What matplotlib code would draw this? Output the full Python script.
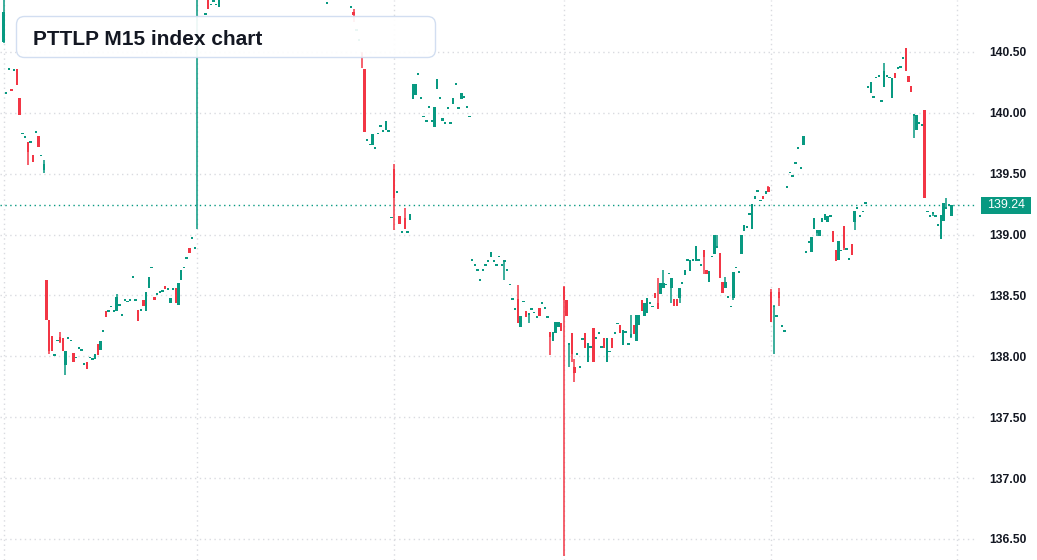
import numpy as np
import matplotlib
matplotlib.use("Agg")
import matplotlib.pyplot as plt
from matplotlib.patches import FancyBboxPatch, Rectangle
from matplotlib.transforms import IdentityTransform, blended_transform_factory

title = "PTTLP M15 index chart"
last_price_label = "139.24"
y_ticks = [136.5, 137.0, 137.5, 138.0, 138.5, 139.0, 139.5, 140.0, 140.5]
session_starts = [0, 72, 145, 208, 285, 354]

open_ = [
 140.58,140.16,140.36,140.20,140.35,140.36,140.12,139.83,139.80,139.76,
 139.76,139.65,139.84,139.81,139.65,139.53,138.63,138.30,138.17,138.01,
 138.13,138.16,138.15,137.93,138.15,138.13,138.03,137.99,138.07,138.05,
 137.94,137.95,137.99,137.98,137.98,138.10,138.05,138.21,138.37,138.37,
 138.41,138.37,138.37,138.42,138.34,138.46,138.45,138.46,138.65,138.46,
 138.38,138.38,138.46,138.37,138.56,138.73,138.49,138.51,138.53,138.54,
 138.58,138.55,138.44,138.55,138.56,138.42,138.63,138.73,138.81,138.89,
 138.97,138.89,141.05,141.10,141.02,140.81,141.00,140.89,140.92,140.89,
 140.87,141.00,141.12,141.18,141.25,141.22,141.30,141.28,141.35,141.32,
 141.40,141.38,141.45,141.42,141.50,141.48,141.44,141.40,141.42,141.36,
 141.30,141.34,141.28,141.22,141.26,141.20,141.24,141.18,141.15,141.20,
 141.16,141.12,141.18,141.14,141.10,141.15,141.12,141.08,141.12,141.06,
 140.90,141.02,141.00,141.05,141.10,141.08,141.12,141.06,141.02,140.87,
 140.83,140.68,140.60,140.49,140.36,139.78,139.74,139.74,139.71,139.83,
 139.89,139.85,139.86,139.85,139.14,139.54,139.35,139.15,139.02,139.14,
 139.02,139.12,140.11,140.15,140.32,140.12,139.97,139.93,140.05,139.93,
 139.88,140.20,140.12,139.93,139.92,140.04,139.92,140.07,140.24,140.04,
 140.11,140.13,140.05,139.97,138.79,138.75,138.71,138.63,138.71,138.75,
 138.78,138.82,138.78,138.75,138.82,138.75,138.78,138.71,138.59,138.47,
 138.39,138.47,138.24,138.45,138.37,138.35,138.39,138.36,138.32,138.40,
 138.44,138.40,138.32,138.20,138.13,138.19,138.24,138.27,138.57,138.46,
 138.10,138.19,137.91,138.02,137.91,138.14,138.19,137.95,138.08,138.23,
 138.15,138.19,138.08,138.15,137.95,138.04,138.15,138.19,138.27,138.26,
 138.09,138.20,138.10,138.16,138.26,138.13,138.26,138.46,138.33,138.36,
 138.44,138.41,138.52,138.44,138.51,138.56,138.59,138.68,138.56,138.47,
 138.47,138.48,138.60,138.67,138.79,138.70,138.79,138.78,138.79,138.75,
 138.87,138.71,138.61,138.82,138.84,138.89,138.85,138.61,138.56,138.49,
 138.41,138.48,138.73,138.69,138.84,139.03,139.06,139.17,139.05,139.29,
 139.36,139.28,139.32,139.33,139.39,138.53,138.41,138.33,138.53,138.25,
 138.21,139.39,139.51,139.48,139.59,139.71,139.55,139.74,138.86,138.94,
 138.86,139.05,139.01,138.99,139.10,139.12,139.10,139.15,139.03,138.87,
 138.79,138.87,139.07,138.88,138.80,138.92,139.10,139.22,139.15,139.19,
 139.26,140.21,140.16,140.13,140.29,140.30,140.10,140.21,140.30,140.29,
 140.12,140.33,140.37,140.38,140.45,140.53,140.30,140.22,139.98,139.86,
 139.92,139.90,140.02,139.19,139.15,139.18,139.15,139.08,138.96,139.11,
 139.22,139.24,139.15]

high = [
 140.95,140.16,140.36,140.20,140.35,140.36,140.12,139.83,139.80,139.76,
 139.76,139.65,139.84,139.81,139.65,139.61,138.63,138.30,138.17,138.01,
 138.13,138.20,138.15,138.04,138.15,138.13,138.03,137.99,138.07,138.05,
 137.94,137.95,137.99,137.98,138.02,138.10,138.13,138.21,138.37,138.37,
 138.41,138.37,138.51,138.42,138.34,138.46,138.45,138.46,138.65,138.46,
 138.38,138.38,138.46,138.53,138.65,138.73,138.49,138.51,138.53,138.54,
 138.58,138.55,138.48,138.55,138.56,138.60,138.71,138.73,138.81,138.89,
 138.97,138.89,141.20,141.15,141.10,140.82,141.05,140.89,140.92,140.89,
 141.00,141.15,141.21,141.28,141.28,141.33,141.33,141.38,141.38,141.43,
 141.43,141.48,141.48,141.53,141.53,141.51,141.47,141.45,141.45,141.39,
 141.37,141.37,141.31,141.29,141.29,141.27,141.27,141.21,141.23,141.23,
 141.19,141.21,141.21,141.17,141.18,141.18,141.15,141.15,141.15,141.09,
 140.90,141.05,141.08,141.13,141.13,141.15,141.15,141.09,141.05,140.87,
 140.85,140.68,140.60,140.50,140.36,139.78,139.74,139.83,139.71,139.83,
 139.89,139.85,139.93,139.85,139.14,139.58,139.35,139.15,139.02,139.22,
 139.02,139.17,140.24,140.24,140.32,140.12,139.97,139.93,140.05,139.93,
 140.05,140.28,140.12,139.96,139.92,140.04,139.92,140.12,140.24,140.04,
 140.16,140.13,140.05,139.97,138.79,138.75,138.71,138.63,138.71,138.75,
 138.78,138.86,138.78,138.75,138.82,138.75,138.78,138.71,138.59,138.47,
 138.39,138.59,138.33,138.45,138.37,138.35,138.39,138.36,138.32,138.40,
 138.44,138.40,138.32,138.20,138.20,138.28,138.28,138.27,138.58,138.46,
 138.11,138.19,137.98,138.02,137.91,138.14,138.19,138.11,138.08,138.23,
 138.15,138.19,138.08,138.15,138.15,138.04,138.15,138.19,138.27,138.26,
 138.22,138.20,138.10,138.34,138.26,138.34,138.34,138.46,138.44,138.48,
 138.44,138.41,138.52,138.64,138.60,138.71,138.59,138.68,138.64,138.47,
 138.47,138.56,138.60,138.71,138.79,138.79,138.79,138.91,138.79,138.75,
 138.87,138.71,138.70,138.82,139.00,139.00,138.85,138.61,138.65,138.49,
 138.41,138.69,138.73,138.69,139.00,139.08,139.06,139.17,139.25,139.32,
 139.36,139.28,139.32,139.36,139.40,138.55,138.42,138.33,138.56,138.25,
 138.21,139.39,139.51,139.48,139.59,139.71,139.55,139.81,138.86,138.94,
 138.98,139.14,139.04,139.04,139.14,139.17,139.15,139.15,139.03,138.87,
 138.95,138.87,139.07,138.88,138.80,138.92,139.19,139.22,139.15,139.19,
 139.26,140.21,140.25,140.13,140.29,140.30,140.10,140.41,140.30,140.29,
 140.29,140.33,140.37,140.38,140.45,140.53,140.30,140.22,139.99,139.98,
 139.92,139.90,140.02,139.19,139.15,139.18,139.15,139.08,139.16,139.26,
 139.30,139.24,139.24]

low = [
 140.57,140.16,140.36,140.18,140.35,140.23,139.98,139.83,139.80,139.57,
 139.76,139.60,139.84,139.72,139.65,139.51,138.30,138.02,138.04,138.01,
 138.13,138.11,138.04,137.85,138.15,138.13,137.95,137.99,138.07,138.05,
 137.94,137.90,137.99,137.98,137.98,138.01,138.05,138.21,138.32,138.37,
 138.41,138.37,138.37,138.42,138.34,138.46,138.45,138.46,138.65,138.46,
 138.29,138.38,138.41,138.37,138.56,138.73,138.46,138.51,138.53,138.54,
 138.55,138.55,138.44,138.55,138.44,138.42,138.63,138.73,138.81,138.85,
 138.97,138.89,139.05,141.00,141.00,140.81,140.85,140.89,140.92,140.89,
 140.87,140.98,141.10,141.16,141.20,141.20,141.26,141.26,141.30,141.30,
 141.36,141.36,141.40,141.40,141.46,141.42,141.38,141.38,141.34,141.28,
 141.28,141.26,141.20,141.20,141.18,141.18,141.16,141.13,141.13,141.14,
 141.10,141.10,141.12,141.08,141.08,141.10,141.06,141.06,141.04,141.02,
 140.90,140.98,140.98,141.03,141.06,141.06,141.04,141.00,140.97,140.87,
 140.75,140.68,140.60,140.37,139.84,139.78,139.74,139.74,139.71,139.83,
 139.89,139.85,139.86,139.85,139.14,139.04,139.35,139.09,139.02,139.05,
 139.02,139.12,140.11,140.15,140.32,140.12,139.97,139.93,140.05,139.93,
 139.88,140.20,140.12,139.93,139.92,140.04,139.92,140.07,140.24,140.04,
 140.11,140.13,140.05,139.97,138.79,138.75,138.71,138.63,138.71,138.75,
 138.78,138.82,138.78,138.75,138.82,138.75,138.63,138.71,138.59,138.47,
 138.39,138.27,138.24,138.45,138.32,138.27,138.39,138.36,138.32,138.33,
 138.44,138.40,138.32,138.01,138.13,138.19,138.24,138.21,136.36,138.33,
 137.91,137.95,137.79,138.02,137.91,138.14,138.07,137.95,138.08,137.95,
 138.15,138.19,138.08,138.07,137.95,138.04,138.07,138.19,138.27,138.19,
 138.09,138.20,138.10,138.15,138.18,138.13,138.26,138.37,138.33,138.36,
 138.44,138.41,138.48,138.39,138.51,138.56,138.59,138.68,138.44,138.41,
 138.41,138.44,138.60,138.67,138.79,138.70,138.79,138.78,138.79,138.75,
 138.68,138.68,138.61,138.82,138.84,138.89,138.64,138.52,138.56,138.49,
 138.41,138.46,138.73,138.69,138.84,139.03,139.06,139.17,139.05,139.29,
 139.36,139.28,139.29,139.33,139.35,138.28,138.02,138.33,138.41,138.25,
 138.21,139.39,139.51,139.48,139.59,139.71,139.55,139.74,138.86,138.94,
 138.86,139.05,138.99,138.99,139.10,139.12,139.10,139.15,138.94,138.78,
 138.79,138.87,138.87,138.88,138.80,138.83,139.04,139.22,139.15,139.19,
 139.26,140.21,140.16,140.13,140.29,140.30,140.10,140.21,140.30,140.29,
 140.12,140.29,140.37,140.38,140.45,140.34,140.25,140.17,139.79,139.86,
 139.92,139.90,139.30,139.19,139.15,139.15,139.15,139.08,138.96,139.11,
 139.22,139.24,139.15]

close = [
 140.83,140.16,140.36,140.18,140.35,140.23,139.98,139.83,139.80,139.68,
 139.76,139.60,139.84,139.72,139.65,139.58,138.30,138.04,138.04,138.01,
 138.13,138.12,138.04,138.04,138.15,138.13,137.95,137.99,138.07,138.05,
 137.94,137.90,137.99,137.98,138.02,138.01,138.13,138.21,138.32,138.37,
 138.41,138.37,138.49,138.42,138.34,138.46,138.45,138.46,138.65,138.46,
 138.29,138.38,138.41,138.53,138.65,138.73,138.46,138.51,138.53,138.54,
 138.55,138.55,138.48,138.55,138.44,138.60,138.71,138.73,138.81,138.85,
 138.97,138.89,141.12,141.05,141.08,140.81,140.85,140.89,140.92,140.89,
 141.00,141.12,141.18,141.25,141.22,141.30,141.28,141.35,141.32,141.40,
 141.38,141.45,141.42,141.50,141.48,141.44,141.40,141.42,141.36,141.30,
 141.34,141.28,141.22,141.26,141.20,141.24,141.18,141.15,141.20,141.16,
 141.12,141.18,141.14,141.10,141.15,141.12,141.08,141.12,141.06,141.04,
 140.90,141.00,141.05,141.10,141.08,141.12,141.06,141.02,141.00,140.87,
 140.80,140.68,140.60,140.45,139.84,139.78,139.74,139.83,139.71,139.83,
 139.89,139.85,139.93,139.85,139.14,139.30,139.35,139.09,139.02,139.05,
 139.02,139.17,140.24,140.24,140.32,140.12,139.97,139.93,140.05,139.93,
 140.05,140.28,140.12,139.96,139.92,140.04,139.92,140.12,140.24,140.04,
 140.16,140.13,140.05,139.97,138.79,138.75,138.71,138.63,138.71,138.75,
 138.78,138.86,138.78,138.75,138.82,138.75,138.78,138.71,138.59,138.47,
 138.39,138.27,138.33,138.45,138.32,138.35,138.39,138.36,138.32,138.33,
 138.44,138.40,138.32,138.16,138.20,138.28,138.28,138.21,138.46,138.33,
 138.11,138.02,137.86,138.02,137.91,138.14,138.07,138.11,138.08,137.95,
 138.15,138.19,138.08,138.07,138.15,138.04,138.07,138.19,138.27,138.19,
 138.22,138.20,138.10,138.18,138.18,138.34,138.34,138.37,138.44,138.48,
 138.44,138.41,138.48,138.39,138.60,138.60,138.59,138.68,138.64,138.41,
 138.41,138.56,138.60,138.71,138.79,138.79,138.79,138.91,138.79,138.75,
 138.82,138.68,138.70,138.82,139.00,138.91,138.64,138.52,138.61,138.49,
 138.41,138.69,138.73,138.69,139.00,139.08,139.06,139.17,139.25,139.32,
 139.36,139.28,139.29,139.36,139.35,138.28,138.42,138.33,138.48,138.25,
 138.21,139.39,139.51,139.48,139.59,139.71,139.55,139.81,138.86,138.94,
 138.98,139.14,139.04,139.04,139.14,139.17,139.15,139.15,138.94,138.78,
 138.95,138.87,138.89,138.88,138.80,138.83,139.19,139.22,139.15,139.19,
 139.26,140.21,140.25,140.13,140.29,140.30,140.10,140.34,140.30,140.29,
 140.29,140.29,140.37,140.38,140.45,140.34,140.25,140.17,139.99,139.98,
 139.92,139.90,139.30,139.19,139.15,139.18,139.15,139.08,139.16,139.26,
 139.22,139.24,139.24]

UP = "#089981"
DOWN = "#F23645"
TEXT = "#131722"
GRID = "#d9dbe0"

o = np.array(open_); h = np.array(high); l = np.array(low); c = np.array(close)
h = np.maximum(h, np.maximum(o, c)); l = np.minimum(l, np.minimum(o, c))
x = np.arange(len(o))
colors = np.where(c >= o, UP, DOWN)

W, H = 1037, 560
fig = plt.figure(figsize=(W / 100, H / 100), dpi=100)
fig.patch.set_facecolor("white")
plot_right = 975
ax = fig.add_axes([0, 0, plot_right / W, 1])
ax.set_facecolor("white")

ymin, ymax = 136.327, 140.927
ax.set_ylim(ymin, ymax)
ax.set_xlim(-1.3, 360.7)

# grid
for yt in y_ticks:
    ax.axhline(yt, color=GRID, lw=1, ls=(0, (1, 2.5)), zorder=0)
for s in session_starts:
    ax.axvline(s, color=GRID, lw=1, ls=(0, (1, 2.5)), zorder=0)

min_h = 0.015
bottom = np.minimum(o, c)
is_doji = np.abs(c - o) < min_h
height = np.maximum(np.abs(c - o), min_h)
ax.vlines(x, l, h, colors=colors, lw=1.1, zorder=2)
ax.bar(x, height, bottom=bottom - np.where(is_doji, min_h / 2, 0),
       width=0.88, color=colors, linewidth=0, zorder=3)

last = c[-1]
ax.axhline(last, color=UP, lw=1, ls=(0, (1, 2.5)), zorder=1)

for sp in ax.spines.values():
    sp.set_visible(False)
ax.set_xticks([])
ax.yaxis.tick_right()
ax.set_yticks(y_ticks)
ax.set_yticklabels([f"{v:.2f}" for v in y_ticks])
ax.tick_params(axis="y", length=0, pad=10, labelsize=8.7, labelcolor=TEXT)
for lab in ax.get_yticklabels():
    lab.set_fontweight("bold")
    lab.set_fontfamily("Liberation Sans")

# last price label
bt = blended_transform_factory(ax.transAxes, ax.transData)
px = 1.0 / plot_right
py = (ymax - ymin) / H
rect = Rectangle((1 + 6 * px, last - 8.5 * py), 50 * px, 17 * py, transform=bt,
                 facecolor=UP, edgecolor="none", clip_on=False, zorder=5)
ax.add_patch(rect)
ax.text(1 + 31 * px, last, last_price_label, transform=bt, ha="center", va="center",
        color="white", fontsize=8.9, family="Liberation Sans", clip_on=False, zorder=6)

# title box
box = FancyBboxPatch((16.5, H - 57.5), 419, 41, boxstyle="round,pad=0,rounding_size=8",
                     transform=IdentityTransform(), facecolor="white", alpha=0.92,
                     edgecolor="#cfdcf0", linewidth=1, zorder=10)
fig.patches.append(box)
box.set_figure(fig)
fig.text(33 / W, 1 - 45 / H, title, fontsize=15, fontweight="bold", color=TEXT,
         family="Liberation Sans", va="baseline", ha="left", zorder=11)

fig.savefig("out.png", dpi=100)
